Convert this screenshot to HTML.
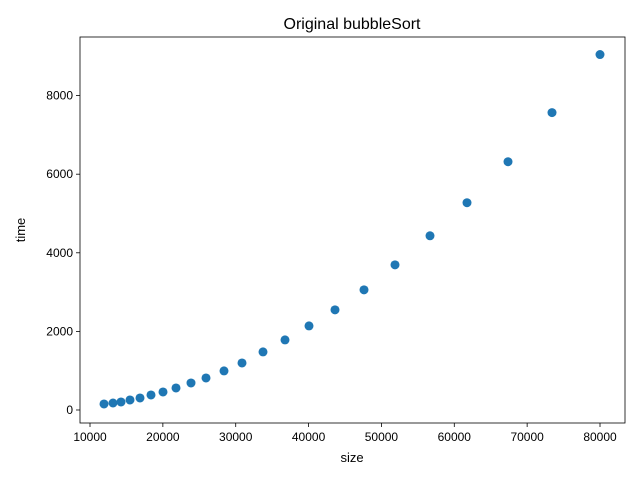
<!DOCTYPE html>
<html><head><meta charset="utf-8"><style>
body{margin:0;background:#fff;font-family:"Liberation Sans","DejaVu Sans",sans-serif;}
</style></head><body>
<svg id="chart" width="640" height="480" xmlns="http://www.w3.org/2000/svg">
<rect width="640" height="480" fill="#fff"/>
<text x="352" y="29" text-anchor="middle" font-size="16" fill="#000">Original bubbleSort</text>
<g id="plot"></g>
<text x="352" y="462" text-anchor="middle" font-size="13">size</text>
<text transform="translate(25,230) rotate(-90)" text-anchor="middle" font-size="13">time</text>
</svg>
<script>
const sizes=[11922,13157,14255,15490,16863,18373,20020,21804,23863,25922,28392,30863,33745,36765,40059,43628,47608,51863,56667,61745,67373,73412,80000];
const times=[153,178,204,255,306,382,459,561,688,815,994,1197,1478,1783,2140,2548,3057,3694,4433,5274,6318,7567,9045];
const xTicks=[10000,20000,30000,40000,50000,60000,70000,80000];
const yTicks=[0,2000,4000,6000,8000];
const L=80,R=625,T=37,B=423;
const xMin=8627,xMax=83431,yMin=-331,yMax=9491;
const xs=v=>L+(v-xMin)/(xMax-xMin)*(R-L);
const ys=v=>B-(v-yMin)/(yMax-yMin)*(B-T);
const NS="http://www.w3.org/2000/svg";
const g=document.getElementById('plot');
function mk(t,a){const e=document.createElementNS(NS,t);for(const k in a)e.setAttribute(k,a[k]);g.appendChild(e);return e;}
const frame=mk('rect',{x:L,y:T,width:R-L,height:B-T,fill:'none',stroke:'#000','stroke-width':0.8});


xTicks.forEach(v=>{const x=xs(v);
 const l=mk('line',{x1:x,x2:x,y1:B,y2:B+4,stroke:'#000','stroke-width':0.8});
 
 
 const t=mk('text',{x:x,y:B+18,'text-anchor':'middle','font-size':12});t.textContent=v;
 
 });
yTicks.forEach(v=>{const y=ys(v);
 const l=mk('line',{x1:L-4,x2:L,y1:y,y2:y,stroke:'#000','stroke-width':0.8});
 
 
 const t=mk('text',{x:L-7,y:y+4,'text-anchor':'end','font-size':12});t.textContent=v;
 
 });
sizes.forEach((s,i)=>{const c=mk('circle',{cx:xs(s),cy:ys(times[i]),r:4.5,fill:'#1f77b4'});
 
 });
</script>
</body></html>
